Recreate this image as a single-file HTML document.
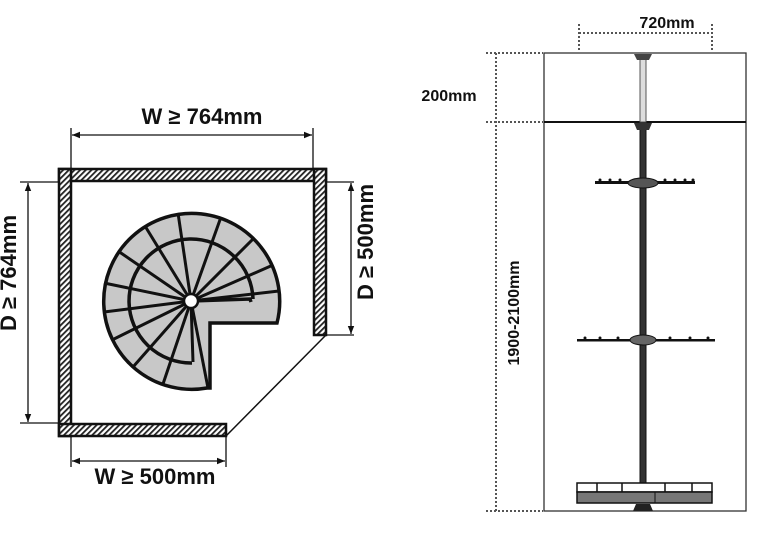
<!DOCTYPE html>
<html><head><meta charset="utf-8"><style>
html,body{margin:0;padding:0;background:#fff;width:777px;height:550px;overflow:hidden}
text{font-family:"Liberation Sans",Arial,sans-serif;font-weight:bold;fill:#111}
</style></head><body>
<svg width="777" height="550" viewBox="0 0 777 550" xmlns="http://www.w3.org/2000/svg">
<defs>
<pattern id="h" width="4" height="4" patternUnits="userSpaceOnUse" patternTransform="rotate(45)">
<rect width="4" height="4" fill="#fff"/><rect width="1.8" height="4" fill="#222"/>
</pattern>
<marker id="a" viewBox="0 0 10 10" refX="10" refY="5" markerWidth="8" markerHeight="8" orient="auto-start-reverse" markerUnits="userSpaceOnUse">
<path d="M0,1 L10,5 L0,9 Z" fill="#111"/></marker>
</defs>
<g stroke="#111" stroke-width="2.5" fill="url(#h)">
<rect x="59" y="169" width="267" height="12"/>
<rect x="59" y="169" width="12" height="267"/>
<rect x="314" y="169" width="12" height="166"/>
<rect x="59" y="424" width="167" height="12"/>
</g>
<line x1="326" y1="335" x2="226" y2="436" stroke="#111" stroke-width="1.5"/>
<g stroke="#111" stroke-width="1.3" fill="none">
<line x1="71" y1="128" x2="71" y2="169"/><line x1="313" y1="128" x2="313" y2="169"/>
<line x1="72" y1="135" x2="312" y2="135" marker-start="url(#a)" marker-end="url(#a)"/>
<line x1="20" y1="182" x2="59" y2="182"/><line x1="20" y1="423" x2="59" y2="423"/>
<line x1="28" y1="183" x2="28" y2="422" marker-start="url(#a)" marker-end="url(#a)"/>
<line x1="326" y1="182" x2="354" y2="182"/><line x1="326" y1="335" x2="354" y2="335"/>
<line x1="351" y1="183" x2="351" y2="334" marker-start="url(#a)" marker-end="url(#a)"/>
<line x1="71" y1="436" x2="71" y2="467"/><line x1="226" y1="436" x2="226" y2="467"/>
<line x1="72" y1="461" x2="225" y2="461" marker-start="url(#a)" marker-end="url(#a)"/>
</g>
<text x="202" y="124" font-size="22" text-anchor="middle">W ≥ 764mm</text>
<text x="155" y="484" font-size="22" text-anchor="middle">W ≥ 500mm</text>
<text transform="translate(16,273) rotate(-90)" font-size="22" text-anchor="middle">D ≥ 764mm</text>
<text transform="translate(373,242) rotate(-90)" font-size="22" text-anchor="middle">D ≥ 500mm</text>
<path d="M277,323 A88,88 0 1 0 207,388 L210,388 L210,323 Z" fill="#c8c8c8" stroke="#111" stroke-width="3.5"/>
<path d="M253,299 A62,62 0 1 0 192,363" fill="none" stroke="#111" stroke-width="3.5"/>
<path d="M191,301 L250,299 L251,302" fill="none" stroke="#111" stroke-width="3.5"/>
<g stroke="#111" stroke-width="3">
<line x1="191" y1="301" x2="279" y2="291"/>
<line x1="191" y1="301" x2="273" y2="265"/>
<line x1="191" y1="301" x2="254" y2="238"/>
<line x1="191" y1="301" x2="221" y2="217"/>
<line x1="191" y1="301" x2="178" y2="213"/>
<line x1="191" y1="301" x2="145" y2="226"/>
<line x1="191" y1="301" x2="118" y2="251"/>
<line x1="191" y1="301" x2="104" y2="283"/>
<line x1="191" y1="301" x2="104" y2="312"/>
<line x1="191" y1="301" x2="112" y2="340"/>
<line x1="191" y1="301" x2="133" y2="367"/>
<line x1="191" y1="301" x2="163" y2="384"/>
<line x1="191" y1="301" x2="193" y2="362"/>
<line x1="191" y1="301" x2="208" y2="388"/>
</g>
<circle cx="191" cy="301" r="7" fill="#fff" stroke="#111" stroke-width="2.5"/>
<rect x="544" y="53" width="202" height="458" fill="none" stroke="#333" stroke-width="1.3"/>
<line x1="544" y1="122" x2="746" y2="122" stroke="#111" stroke-width="2"/>
<g stroke="#555" stroke-width="2" stroke-dasharray="2,2" fill="none">
<line x1="579" y1="24" x2="579" y2="52"/><line x1="712" y1="24" x2="712" y2="52"/>
<line x1="579" y1="33" x2="712" y2="33"/>
<line x1="486" y1="53" x2="543" y2="53"/><line x1="486" y1="122" x2="543" y2="122"/>
<line x1="486" y1="511" x2="543" y2="511"/>
<line x1="496" y1="53" x2="496" y2="511"/>
</g>
<text x="667" y="28" font-size="16" text-anchor="middle">720mm</text>
<text x="449" y="101" font-size="16" text-anchor="middle">200mm</text>
<text transform="translate(519,313) rotate(-90)" font-size="16" text-anchor="middle">1900-2100mm</text>
<rect x="640" y="58" width="6" height="64" fill="#ddd" stroke="#555" stroke-width="1"/>
<rect x="640" y="125" width="6" height="360" fill="#333" stroke="#111" stroke-width="1"/>
<path d="M634,54 L652,54 L649,60 L637,60 Z" fill="#444"/>
<path d="M634,123 L652,123 L649,130 L637,130 Z" fill="#333"/>
<g fill="#111">
<rect x="595" y="181" width="100" height="3"/>
<ellipse cx="643" cy="183" rx="15" ry="5" fill="#555" stroke="#111"/>
<rect x="577" y="339" width="138" height="2.5"/>
<ellipse cx="643" cy="340" rx="13" ry="5" fill="#666" stroke="#111"/>
</g>
<g fill="#111">
<circle cx="600" cy="180" r="1.5"/><circle cx="610" cy="180" r="1.5"/><circle cx="620" cy="180" r="1.5"/><circle cx="665" cy="180" r="1.5"/><circle cx="675" cy="180" r="1.5"/><circle cx="685" cy="180" r="1.5"/><circle cx="693" cy="180" r="1.5"/>
<circle cx="585" cy="338" r="1.5"/><circle cx="600" cy="338" r="1.5"/><circle cx="618" cy="338" r="1.5"/><circle cx="670" cy="338" r="1.5"/><circle cx="690" cy="338" r="1.5"/><circle cx="708" cy="338" r="1.5"/>
</g>
<rect x="577" y="483" width="135" height="9" fill="#fff" stroke="#111" stroke-width="1.5"/>
<g stroke="#111" stroke-width="1.5"><line x1="597" y1="483" x2="597" y2="492"/><line x1="622" y1="483" x2="622" y2="492"/><line x1="665" y1="483" x2="665" y2="492"/><line x1="692" y1="483" x2="692" y2="492"/></g>
<rect x="577" y="492" width="135" height="11" fill="#777" stroke="#111" stroke-width="1.5"/>
<line x1="655" y1="492" x2="655" y2="503" stroke="#111" stroke-width="1"/>
<path d="M636,504 L650,504 L653,511 L633,511 Z" fill="#222"/>
</svg>
</body></html>
